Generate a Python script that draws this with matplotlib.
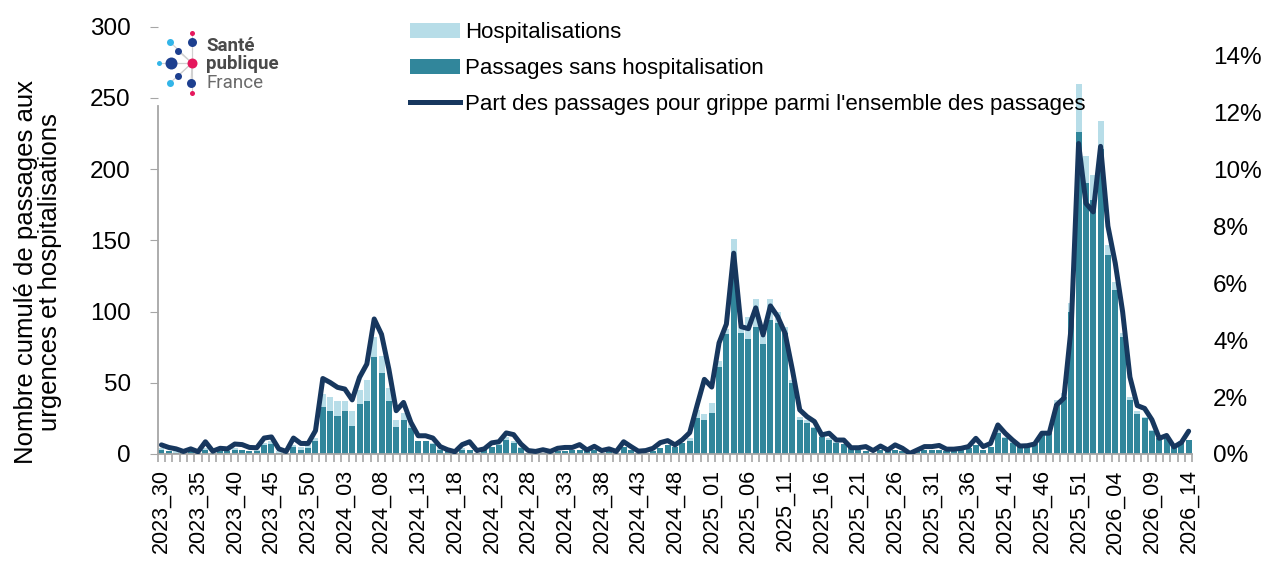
import matplotlib
matplotlib.use("Agg")
import matplotlib.pyplot as plt
from matplotlib.patches import Patch
from matplotlib.lines import Line2D

plt.rcParams['font.family'] = ['Liberation Sans', 'DejaVu Sans']

# semaines 2023_30 -> 2026_14
weeks = ([f"2023_{w:02d}" for w in range(30, 53)]
         + [f"2024_{w:02d}" for w in range(1, 53)]
         + [f"2025_{w:02d}" for w in range(1, 53)]
         + [f"2026_{w:02d}" for w in range(1, 15)])

# passages sans hospitalisation
sans = [3, 2, 1, 1, 2, 1, 3, 1, 2, 2,
        3, 3, 2, 2, 6, 7, 1, 1, 5, 3,
        4, 9, 33, 30, 27, 30, 20, 35, 37, 68,
        57, 37, 19, 24, 18, 9, 9, 7, 3, 2,
        1, 3, 3, 1, 4, 5, 6, 10, 8, 4,
        1, 1, 1, 1, 2, 2, 3, 3, 2, 3,
        1, 2, 1, 5, 3, 1, 1, 2, 4, 6,
        5, 8, 9, 25, 24, 29, 61, 84, 130, 85,
        81, 89, 77, 94, 92, 85, 50, 24, 22, 18,
        12, 10, 8, 7, 4, 3, 2, 1, 3, 2,
        3, 2, 1, 2, 3, 3, 3, 2, 2, 3,
        4, 6, 3, 5, 15, 11, 8, 5, 5, 7,
        13, 15, 35, 40, 100, 226, 190, 178, 214, 140,
        115, 82, 38, 28, 25, 16, 11, 11, 6, 8,
        10]

# hospitalisations
hosp = [1, 0, 1, 0, 1, 0, 1, 0, 0, 1,
        1, 0, 0, 1, 2, 2, 1, 0, 1, 2,
        2, 2, 9, 10, 10, 7, 10, 10, 15, 14,
        12, 9, 5, 5, 3, 0, 0, 1, 1, 0,
        0, 1, 0, 0, 0, 0, 1, 2, 1, 1,
        0, 0, 0, 0, 0, 0, 0, 0, 0, 0,
        0, 0, 0, 0, 0, 0, 0, 0, 0, 0,
        0, 0, 2, 6, 4, 7, 4, 4, 21, 4,
        15, 20, 6, 15, 8, 4, 2, 2, 2, 1,
        1, 1, 1, 0, 1, 0, 0, 0, 0, 0,
        0, 0, 0, 0, 0, 0, 0, 0, 0, 0,
        0, 0, 0, 0, 3, 1, 1, 0, 0, 0,
        2, 1, 3, 3, 6, 34, 19, 18, 20, 7,
        6, 3, 2, 2, 1, 1, 1, 1, 0, 1,
        0]

# part des passages pour grippe (%)
part = [0.32, 0.23, 0.18, 0.09, 0.18, 0.08, 0.43, 0.10, 0.20, 0.18,
        0.35, 0.33, 0.23, 0.22, 0.56, 0.60, 0.18, 0.09, 0.56, 0.37,
        0.37, 0.82, 2.65, 2.51, 2.34, 2.28, 1.90, 2.69, 3.16, 4.74,
        4.20, 2.98, 1.52, 1.81, 1.11, 0.64, 0.64, 0.56, 0.26, 0.15,
        0.08, 0.33, 0.43, 0.12, 0.18, 0.39, 0.43, 0.74, 0.68, 0.35,
        0.12, 0.09, 0.15, 0.09, 0.20, 0.23, 0.23, 0.33, 0.14, 0.27,
        0.12, 0.18, 0.09, 0.43, 0.26, 0.10, 0.12, 0.20, 0.40, 0.47,
        0.32, 0.50, 0.75, 1.70, 2.62, 2.35, 3.90, 4.56, 7.05, 4.47,
        4.40, 5.13, 4.18, 5.20, 4.82, 4.24, 2.95, 1.55, 1.31, 1.14,
        0.67, 0.73, 0.49, 0.49, 0.22, 0.22, 0.26, 0.12, 0.28, 0.14,
        0.32, 0.20, 0.02, 0.14, 0.26, 0.26, 0.30, 0.17, 0.17, 0.20,
        0.26, 0.55, 0.26, 0.37, 1.02, 0.73, 0.49, 0.28, 0.29, 0.35,
        0.73, 0.73, 1.72, 1.96, 4.47, 10.9, 8.8, 8.5, 10.8, 8.0,
        6.7, 5.0, 2.7, 1.7, 1.6, 1.2, 0.55, 0.65, 0.25, 0.40,
        0.80]

LIGHT = '#b7dde8'
DARK = '#31869b'
NAVY = '#17375e'
GREY = '#a6a6a6'

fig = plt.figure(figsize=(12.68, 5.72), dpi=100)
ax = fig.add_axes([0.1244, 0.2063, 0.8159, 0.747])
x = list(range(len(weeks)))

ax.bar(x, sans, width=0.82, color=DARK, zorder=2)
ax.bar(x, hosp, bottom=sans, width=0.82, color=LIGHT, zorder=2)
ax.set_xlim(-0.5, len(weeks) - 0.5)
ax.set_ylim(0, 300)
ax.set_yticks(range(0, 301, 50))
ax.tick_params(axis='y', labelsize=17.5, length=6, color=GREY, pad=13.5)

ax.set_xticks(x[::5])
ax.set_xticklabels(weeks[::5], rotation=90, fontsize=15.5)
ax.set_xticks([i - 0.5 for i in range(len(weeks) + 1)], minor=True)
ax.tick_params(axis='x', which='major', length=0, pad=11)
ax.tick_params(axis='x', which='minor', length=6, width=1.2, color=GREY)

for s in ('top', 'right'):
    ax.spines[s].set_visible(False)
for s in ('left', 'bottom'):
    ax.spines[s].set_color(GREY)
    ax.spines[s].set_linewidth(1.3)
ax.spines['left'].set_bounds(0, 244)

ax2 = ax.twinx()
ax2.plot(x, part, color=NAVY, lw=3.6, solid_joinstyle='round', solid_capstyle='round')
ax2.set_ylim(0, 15)
ax2.set_yticks(range(0, 15, 2))
ax2.set_yticklabels([f"{v}%" for v in range(0, 15, 2)])
ax2.tick_params(axis='y', labelsize=17.5, length=0, pad=15)
for s in ax2.spines.values():
    s.set_visible(False)

fig.text(0.030, 0.524, "Nombre cumulé de passages aux\nurgences et hospitalisations",
         rotation=90, ha='center', va='center', fontsize=18.5, multialignment='center',
         linespacing=1.0)

handles = [Patch(facecolor=LIGHT), Patch(facecolor=DARK), Line2D([], [], color=NAVY, lw=3.6)]
labels = ["Hospitalisations", "Passages sans hospitalisation",
          "Part des passages pour grippe parmi l'ensemble des passages"]
leg = fig.legend(handles, labels, loc='upper left', bbox_to_anchor=(0.3235, 0.961),
                 frameon=False, fontsize=16, handlelength=2.25, handletextpad=0.2,
                 labelspacing=0.67, borderpad=0, borderaxespad=0)
leg.set_zorder(10)

# logo Santé publique France
logo = fig.add_axes([0, 0, 1, 1], zorder=5)
logo.set_xlim(0, 1268)
logo.set_ylim(572, 0)
logo.axis('off')
cx, cy = 192, 63
pts = [(192, 33, 5, '#e5185d'), (170, 42, 7, '#33b5e8'), (192, 42, 9, '#1d3f8f'),
       (178, 51, 7, '#1d3f8f'), (159, 63, 5, '#33b5e8'), (171, 63, 12, '#1d3f8f'),
       (192, 63, 10, '#e5185d'), (178, 76, 7, '#1d3f8f'), (170, 83, 7, '#33b5e8'),
       (191, 83, 9, '#1d3f8f'), (192, 93, 5, '#e5185d')]
for px, py, d, c in pts:
    logo.plot([cx, px], [cy, py], color='#d0d0d0', lw=0.8, zorder=1)
for px, py, d, c in pts:
    logo.scatter([px], [py], s=(d * 0.72) ** 2, color=c, zorder=2, linewidths=0)
logo.text(206, 46, "Santé", fontsize=13.5, fontweight='bold', color='#4a4a4a',
          va='center', family='Roboto')
logo.text(206, 64, "publique", fontsize=13.5, fontweight='bold', color='#4a4a4a',
          va='center', family='Roboto')
logo.text(206, 83, "France", fontsize=13.5, color='#6a6a6a', va='center', family='Roboto')

fig.savefig("out.png", dpi=100)
